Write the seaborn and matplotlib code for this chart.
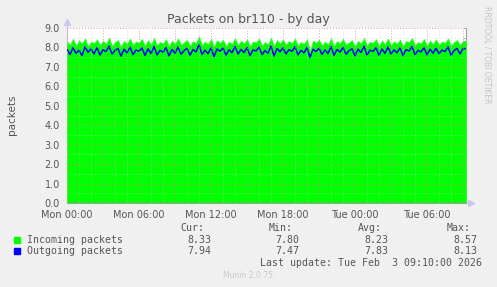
import numpy as np
import pandas as pd
import matplotlib
matplotlib.use("Agg")
import matplotlib.pyplot as plt
import seaborn as sns
from matplotlib.ticker import MultipleLocator

# ---- data ----
title = "Packets on br110 - by day"
ylabel = "packets"
step_hours = 0.25
incoming = [
    8.31, 8.12, 8.44, 8.08, 8.36, 8.19, 8.47, 8.05, 8.29, 8.22, 8.41, 8.10, 8.34, 8.16, 8.50, 8.07, 8.27, 8.38, 8.02, 8.33,
    8.18, 8.45, 8.11, 8.30, 8.24, 8.43, 8.06, 8.37, 8.14, 8.49, 8.09, 8.28, 8.20, 8.42, 8.04, 8.35, 8.17, 8.46, 8.12, 8.26,
    8.39, 8.08, 8.32, 8.21, 8.57, 8.10, 8.30, 8.15, 8.44, 8.03, 8.36, 8.23, 8.40, 8.07, 8.29, 8.18, 8.48, 8.11, 8.34, 8.19,
    8.42, 8.06, 8.31, 8.25, 8.45, 8.09, 8.27, 8.16, 8.50, 8.05, 8.38, 8.20, 8.41, 8.13, 8.33, 8.22, 8.46, 8.08, 8.28, 8.17,
    8.43, 7.80, 8.35, 8.24, 8.39, 8.10, 8.30, 8.14, 8.47, 8.06, 8.32, 8.21, 8.44, 8.12, 8.26, 8.37, 8.04, 8.34, 8.19, 8.48,
    8.09, 8.29, 8.23, 8.42, 8.07, 8.36, 8.15, 8.45, 8.11, 8.31, 8.18, 8.40, 8.05, 8.33, 8.26, 8.49, 8.10, 8.28, 8.20, 8.43,
    8.08, 8.35, 8.16, 8.41, 8.13, 8.30, 8.22, 8.46, 8.07, 8.27, 8.38, 8.12, 8.33, 8.33,
]
outgoing = [
    7.90, 7.64, 7.98, 7.70, 7.86, 7.58, 8.03, 7.75, 7.92, 7.67, 7.99, 7.61, 7.88, 7.79, 8.06, 7.66, 7.84, 7.95, 7.55, 7.91,
    7.72, 8.01, 7.63, 7.87, 7.80, 7.97, 7.59, 7.93, 7.69, 8.04, 7.62, 7.85, 7.76, 7.99, 7.57, 7.90, 7.71, 8.02, 7.65, 7.83,
    7.96, 7.60, 7.89, 7.77, 8.13, 7.64, 7.86, 7.68, 7.98, 7.53, 7.92, 7.81, 7.97, 7.61, 7.88, 7.73, 8.05, 7.66, 7.90, 7.74,
    7.99, 7.58, 7.87, 7.82, 8.01, 7.63, 7.84, 7.70, 8.07, 7.56, 7.94, 7.78, 7.98, 7.67, 7.89, 7.80, 8.03, 7.62, 7.85, 7.72,
    8.00, 7.47, 7.91, 7.79, 7.96, 7.64, 7.88, 7.69, 8.04, 7.59, 7.90, 7.76, 8.00, 7.65, 7.83, 7.93, 7.57, 7.91, 7.74, 8.06,
    7.61, 7.86, 7.80, 7.98, 7.60, 7.92, 7.70, 8.02, 7.66, 7.88, 7.73, 7.97, 7.58, 7.89, 7.82, 8.05, 7.63, 7.85, 7.77, 7.99,
    7.62, 7.91, 7.71, 7.96, 7.68, 7.87, 7.79, 8.03, 7.60, 7.84, 7.95, 7.67, 7.94, 7.94,
]
series_names = ["Incoming packets", "Outgoing packets"]
series_colors = ["#00FF00", "#0000FF"]
x_tick_hours = [0, 6, 12, 18, 24, 30]
x_tick_labels = ["Mon 00:00", "Mon 06:00", "Mon 12:00", "Mon 18:00", "Tue 00:00", "Tue 06:00"]
y_ticks = [0.0, 1.0, 2.0, 3.0, 4.0, 5.0, 6.0, 7.0, 8.0, 9.0]
stats_headers = ["Cur:", "Min:", "Avg:", "Max:"]
stats_incoming = ["8.33", "7.80", "8.23", "8.57"]
stats_outgoing = ["7.94", "7.47", "7.83", "8.13"]
last_update = "Last update: Tue Feb  3 09:10:00 2026"
footer = "Munin 2.0.75"
watermark = "RRDTOOL / TOBI OETIKER"

df = pd.DataFrame({
    "hours": np.arange(len(incoming)) * step_hours,
    "incoming": incoming,
    "outgoing": outgoing,
})

# ---- figure ----
sns.set_style("white")
plt.rcParams["font.family"] = ["DejaVu Sans"]
BG = "#F0F0F0"
TXT = "#555555"
W, H = 497, 287
fig = plt.figure(figsize=(W / 100, H / 100), dpi=100, facecolor=BG)
ax = fig.add_axes([67 / W, (H - 203) / H, 399 / W, 175 / H])
ax.set_facecolor("white")

ax.fill_between(df["hours"], 0, df["incoming"],
                color=series_colors[0], linewidth=0.6, edgecolor="#33FF33", zorder=1)
sns.lineplot(data=df, x="hours", y="outgoing", ax=ax, color=series_colors[1],
             linewidth=1.1, zorder=2)

ax.set_xlim(0, 33.25)
ax.set_ylim(0, 9.0)
ax.set_xticks(x_tick_hours)
ax.set_xticklabels(x_tick_labels)
ax.set_yticks(y_ticks)
ax.set_yticklabels([f"{v:.1f}" for v in y_ticks])
ax.xaxis.set_minor_locator(MultipleLocator(1))
ax.yaxis.set_minor_locator(MultipleLocator(0.5))
ax.set_xlabel("")
ax.set_ylabel("")

# grid on top
ax.set_axisbelow(False)
ax.grid(False)
for h in np.arange(0, 33.25, 1):
    if h % 3 == 0:
        ax.axvline(h, color="#E08080", lw=0.7, ls=(0, (1, 2)), zorder=3, alpha=0.8)
    else:
        ax.axvline(h, color="#C8C8C8", lw=0.6, ls=(0, (1, 2)), zorder=3, alpha=0.7)
for v in np.arange(0.5, 9.01, 0.5):
    if v % 1 == 0:
        ax.axhline(v, color="#E08080", lw=0.7, ls=(0, (1, 2)), zorder=3, alpha=0.8)
    else:
        ax.axhline(v, color="#C8C8C8", lw=0.6, ls=(0, (1, 2)), zorder=3, alpha=0.7)

ax.spines["top"].set_visible(False)
ax.spines["left"].set_visible(False)
ax.spines["right"].set_visible(False)
ax.spines["bottom"].set_color("#A0A0A0")
ax.spines["bottom"].set_linewidth(0.8)

ax.tick_params(axis="both", which="major", length=3, width=0.7, color="#E08080",
               labelsize=7, labelcolor=TXT, pad=2, direction="out")
ax.tick_params(axis="both", which="minor", length=2, width=0.6, color="#B0B0B0",
               direction="out")

# right-hand grey axis with inward ticks
sec = ax.secondary_yaxis("right")
sec.set_yticks(y_ticks)
sec.yaxis.set_minor_locator(MultipleLocator(0.5))
sec.tick_params(which="both", direction="in", length=2.5, width=0.6,
                color="#A0A0A0", labelright=False)
sec.spines["right"].set_color("#A0A0A0")
sec.spines["right"].set_linewidth(0.8)

# axis arrows
ax.plot([0], [1.035], marker="^", color="#C8C8F0", markersize=4,
        transform=ax.transAxes, clip_on=False)
ax.plot([1.013], [0], marker=">", color="#C8C8F0", markersize=4,
        transform=ax.transAxes, clip_on=False)
ax.plot([0, 0], [0, 1.03], color="#C8C8F0", lw=0.8, transform=ax.transAxes, clip_on=False, zorder=0)

# texts
fig.text(248 / W, 1 - 19 / H, title, ha="center", va="center", fontsize=9, color=TXT)
fig.text(12 / W, 1 - 115 / H, ylabel, ha="center", va="center", rotation=90,
         fontsize=7.5, color=TXT)
fig.text(487 / W, 1 - 55 / H, watermark, ha="center", va="center", rotation=270,
         fontsize=5.5, color="#C4C4C4")

mono = "DejaVu Sans Mono"
fs = 7.1
header_right = [204, 293, 382, 471]
value_right = [211, 299, 388, 477]
for hdr, xr in zip(stats_headers, header_right):
    fig.text(xr / W, 1 - 228 / H, hdr, ha="right", va="center", family=mono,
             fontsize=fs, color=TXT)
rows = [(series_names[0], series_colors[0], stats_incoming, 240),
        (series_names[1], series_colors[1], stats_outgoing, 251)]
for name, col, vals, yy in rows:
    fig.patches.append(plt.Rectangle((14 / W, 1 - (yy + 3) / H), 6 / W, 6 / H,
                                     transform=fig.transFigure, color=col))
    fig.text(27 / W, 1 - yy / H, name, ha="left", va="center", family=mono,
             fontsize=fs, color=TXT)
    for v, xr in zip(vals, value_right):
        fig.text(xr / W, 1 - yy / H, v, ha="right", va="center", family=mono,
                 fontsize=fs, color=TXT)
fig.text(482 / W, 1 - 263 / H, last_update, ha="right", va="center", family=mono,
         fontsize=fs, color=TXT)
fig.text(248 / W, 1 - 276 / H, footer, ha="center", va="center", fontsize=5.5,
         color="#C8C8C8")

fig.savefig("out.png", dpi=100, facecolor=BG)
